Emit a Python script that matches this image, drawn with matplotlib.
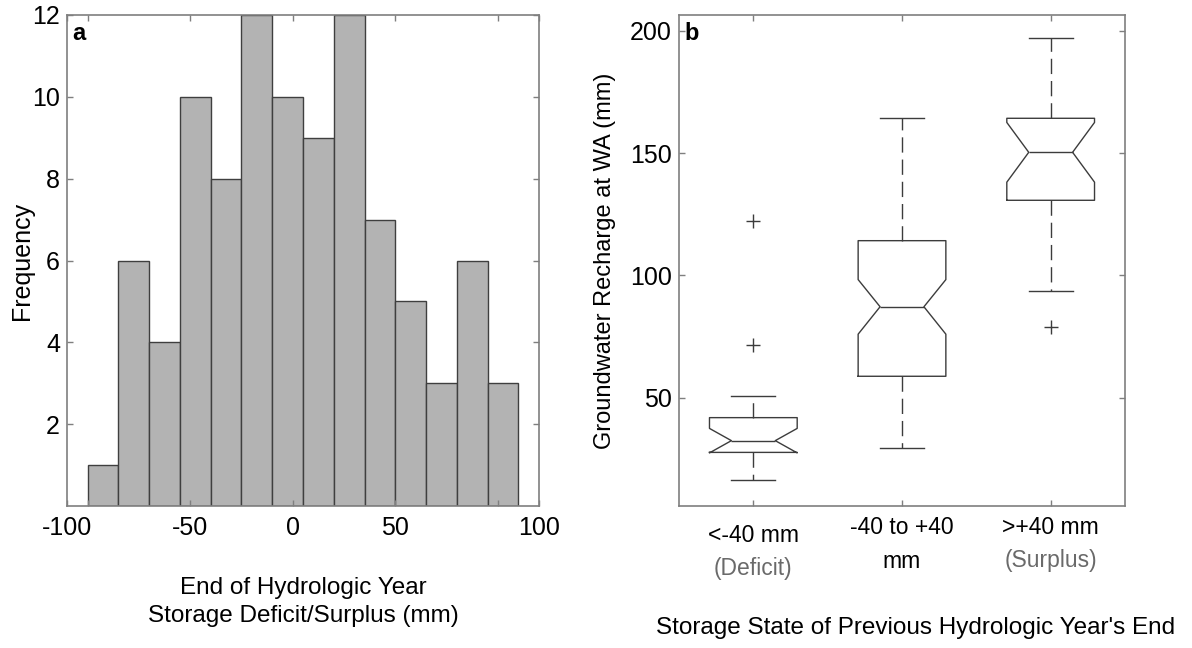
import numpy as np
import matplotlib
matplotlib.use('Agg')
import matplotlib.pyplot as plt

plt.rcParams['font.family'] = ['Liberation Sans', 'DejaVu Sans']

# 패널 a : 히스토그램 (저장량 결손/잉여)
bin_left = -100
bin_width = 15
counts = [1, 6, 4, 10, 8, 12, 10, 9, 12, 7, 5, 3, 6, 3]
x_tick_vals = [-110, -50, 0, 50, 120]
x_tick_labels = ['-100', '-50', '0', '50', '100']
y_ticks_a = [2, 4, 6, 8, 10, 12]

# 패널 b : 노치 박스플롯 (지하수 함양량)
groups = ['<-40 mm', '-40 to +40', '>+40 mm']
groups_line2 = ['(Deficit)', 'mm', '(Surplus)']
medians = [32.5, 87.2, 150.3]
q1s = [27.7, 58.8, 130.7]
q3s = [41.9, 114.2, 164.2]
whisker_lo = [16.4, 29.6, 93.6]
whisker_hi = [50.7, 164.5, 197.2]
notch_lo = [27.5, 76.0, 138.1]
notch_hi = [37.5, 98.3, 162.5]
outliers = [[71.7, 122.2], [], [79.0]]
y_ticks_b = [50, 100, 150, 200]

W, H = 1192, 648
fig = plt.figure(figsize=(W / 100, H / 100), dpi=100)

spine_col = '#7f7f7f'
line_col = '#3c3c3c'

# ---------------- a ----------------
ax1 = fig.add_axes([67 / W, 1 - 506 / H, 472 / W, 491 / H])
edges = bin_left + bin_width * np.arange(len(counts) + 1)
ax1.bar(edges[:-1], counts, width=bin_width, align='edge',
        color='#b3b3b3', edgecolor='#3f3f3f', linewidth=1.0)
ax1.set_xlim(-110, 120)
ax1.set_ylim(0, 12)
ax1.set_xticks(x_tick_vals, labels=x_tick_labels)
ax1.set_xticks([-100, 100], minor=True)
ax1.set_yticks(y_ticks_a)
ax1.set_ylabel('Frequency', fontsize=18)
ax1.yaxis.set_label_coords((22 - 67) / 472, 0.5)
ax1.yaxis.label.set_va('center')
ax1.set_xlabel('End of Hydrologic Year\nStorage Deficit/Surplus (mm)',
               fontsize=17.5, linespacing=1.3)
ax1.xaxis.set_label_coords(0.5, (506 - 602) / 491)
ax1.xaxis.label.set_va('center')
ax1.text(0.012, 0.985, 'a', transform=ax1.transAxes, fontsize=17,
         fontweight='bold', va='top', ha='left')

# ---------------- b ----------------
ax2 = fig.add_axes([679 / W, 1 - 506 / H, 446 / W, 491 / H])
stats = []
for i in range(len(groups)):
    stats.append(dict(med=medians[i], q1=q1s[i], q3=q3s[i],
                      whislo=whisker_lo[i], whishi=whisker_hi[i],
                      cilo=notch_lo[i], cihi=notch_hi[i],
                      fliers=outliers[i]))
ax2.bxp(stats, positions=[1, 2, 3], widths=0.59, shownotches=True,
        boxprops=dict(color=line_col, linewidth=1.0),
        medianprops=dict(color=line_col, linewidth=1.0),
        whiskerprops=dict(color=line_col, linewidth=1.0,
                          linestyle=(0, (11, 5))),
        capprops=dict(color=line_col, linewidth=1.0),
        flierprops=dict(marker='+', markersize=10, markeredgecolor=line_col,
                        markeredgewidth=1.0, linestyle='none'))
ax2.set_xlim(0.5, 3.5)
ax2.set_ylim(5.8, 206.4)
ax2.set_yticks(y_ticks_b)
ax2.set_xticks([1, 2, 3], labels=['', '', ''])
ax2.set_ylabel('Groundwater Recharge at WA (mm)', fontsize=17)
ax2.yaxis.set_label_coords((605 - 679) / 446, 0.5)
ax2.yaxis.label.set_va('center')
ax2.text(0.012, 0.985, 'b', transform=ax2.transAxes, fontsize=17,
         fontweight='bold', va='top', ha='left')

# 두 줄짜리 범주 라벨
tr = ax2.get_xaxis_transform()
line1_y = [-29, -22, -22]
for i in range(len(groups)):
    ax2.annotate(groups[i], xy=(i + 1, 0), xycoords=tr,
                 xytext=(0, line1_y[i]), textcoords='offset pixels',
                 ha='center', va='center', fontsize=16.5)
    c2 = '#6a6a6a' if i != 1 else 'black'
    ax2.annotate(groups_line2[i], xy=(i + 1, 0), xycoords=tr,
                 xytext=(0, line1_y[i] - 33), textcoords='offset pixels',
                 ha='center', va='center', fontsize=16.5, color=c2)
fig.text(916 / W, 1 - 628 / H, "Storage State of Previous Hydrologic Year's End",
         ha='center', va='center', fontsize=17.5)

for ax in (ax1, ax2):
    for s in ax.spines.values():
        s.set_color(spine_col)
        s.set_linewidth(1.2)
    ax.tick_params(which='both', direction='in', length=4, width=1,
                   color=spine_col, labelsize=18, top=True, right=True)
    ax.tick_params(axis='x', pad=7)
    ax.tick_params(axis='y', pad=5)

fig.savefig('out.png', dpi=100)
